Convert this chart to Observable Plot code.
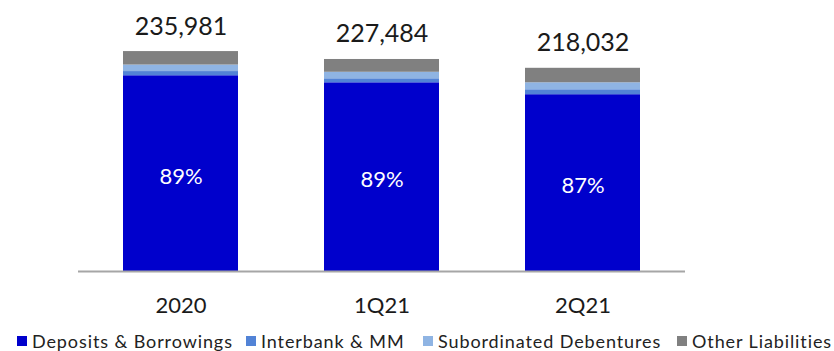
<!DOCTYPE html>
<html>
<head>
<meta charset="utf-8">
<script src="https://cdn.jsdelivr.net/npm/d3@7"></script>
<script src="https://cdn.jsdelivr.net/npm/@observablehq/plot@0.6"></script>
<style>
  html, body { margin: 0; padding: 0; background: #fff; }
  #wrap { position: relative; width: 834px; height: 351px; overflow: hidden; font-family: Lato, "Liberation Sans", sans-serif; }
  #legend { position: absolute; top: 330px; left: 0; width: 834px; height: 21px; }
  .item { position: absolute; top: 0; display: flex; align-items: center; font-size: 18px; letter-spacing: 0.9px; color: #222; white-space: nowrap; }
  .sw { width: 10px; height: 10px; margin-right: 5px; }
</style>
</head>
<body>
<div id="wrap"><div id="chart"></div><div id="legend"></div></div>
<script>
const periods = ["2020", "1Q21", "2Q21"];
const totals = [235981, 227484, 218032];
const depositShareLabels = ["89%", "89%", "87%"];
const seriesNames = ["Deposits & Borrowings", "Interbank & MM", "Subordinated Debentures", "Other Liabilities"];
const seriesColors = ["#0000cc", "#5283d6", "#8fb4e3", "#808080"];
const deposits = [210023, 202461, 189688];
const interbank = [4500, 4300, 5300];
const subordinated = [7000, 7000, 7500];
const other = [14458, 13723, 15544];
const legendLeft = [17, 246, 423, 677];

const seriesValues = [deposits, interbank, subordinated, other];
const rows = [];
seriesNames.forEach((s, si) => periods.forEach((p, pi) => rows.push({period: p, series: s, value: seriesValues[si][pi]})));
const totalRows = periods.map((p, i) => ({period: p, total: totals[i]}));
const shareRows = periods.map((p, i) => ({period: p, mid: deposits[i] / 2, label: depositShareLabels[i]}));

const chart = Plot.plot({
  width: 834,
  height: 322,
  marginLeft: 78,
  marginRight: 149,
  marginTop: 38,
  marginBottom: 51,
  style: {fontFamily: "Lato, 'Liberation Sans', sans-serif", background: "#fff"},
  x: {domain: periods, paddingInner: 0.43, paddingOuter: 0.22, label: null},
  y: {domain: [0, 250000], axis: null},
  color: {domain: seriesNames, range: seriesColors},
  marks: [
    Plot.barY(rows, {x: "period", y: "value", fill: "series", order: seriesNames}),
    Plot.ruleY([0], {stroke: "#a6a6a6", strokeWidth: 2}),
    Plot.axisX({tickSize: 0, tickPadding: 26, fontSize: 22, fill: "#1a1a1a", label: null}),
    Plot.text(totalRows, {x: "period", y: "total", text: d => d3.format(",")(d.total), dy: -25, fontSize: 25, fill: "#1a1a1a"}),
    Plot.text(shareRows, {x: "period", y: "mid", text: "label", dy: 3, fontSize: 22, fill: "#ffffff"})
  ]
});
document.getElementById("chart").appendChild(chart);

const legend = document.getElementById("legend");
seriesNames.forEach((s, i) => {
  const it = document.createElement("div");
  it.className = "item";
  it.style.left = legendLeft[i] + "px";
  const sw = document.createElement("span");
  sw.className = "sw";
  sw.style.background = seriesColors[i];
  const tx = document.createElement("span");
  tx.textContent = s;
  it.appendChild(sw);
  it.appendChild(tx);
  legend.appendChild(it);
});
</script>
</body>
</html>
